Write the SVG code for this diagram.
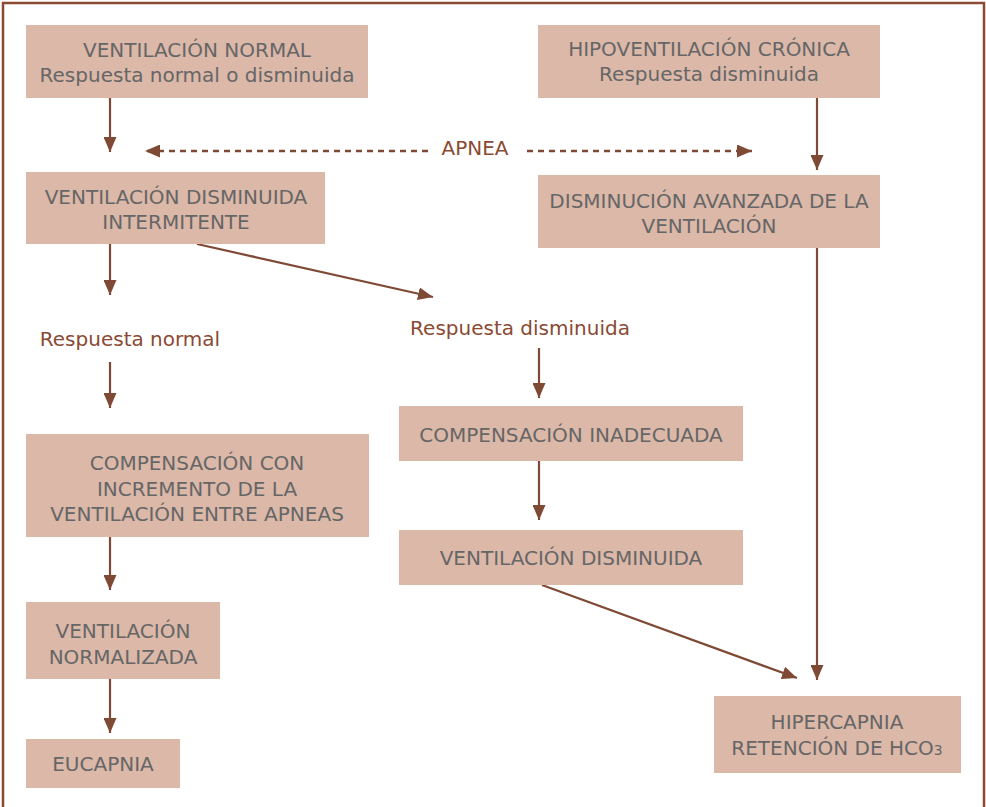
<svg xmlns="http://www.w3.org/2000/svg" width="986" height="807" viewBox="0 0 986 807">
<defs>
<style>
.box{fill:#dbb8a8}
.t{font-family:"DejaVu Sans","Liberation Sans",sans-serif;font-size:20px;fill:#666666;text-anchor:middle}
.l{font-family:"DejaVu Sans","Liberation Sans",sans-serif;font-size:20px;fill:#8b4a33;text-anchor:middle}
.c{stroke:#7f4a35;stroke-width:2.2;fill:none}
.d{stroke:#7f4a35;stroke-width:2.5;fill:none;stroke-dasharray:6 5}
</style>
<marker id="ah" viewBox="0 0 15 13" refX="15" refY="6.5" markerWidth="15" markerHeight="13" markerUnits="userSpaceOnUse" orient="auto">
<path d="M0,0 L15,6.5 L0,13 Z" fill="#7f4a35"/>
</marker>
</defs>
<rect width="986" height="807" fill="#ffffff"/>
<path d="M3,807 V3 H984 V807" fill="none" stroke="#8b4a33" stroke-width="2.5"/>

<g id="connectors">
<line class="c" x1="110" y1="98" x2="110" y2="152" marker-end="url(#ah)"/>
<line class="d" x1="428" y1="151" x2="145" y2="151" marker-end="url(#ah)"/>
<line class="d" x1="527" y1="151" x2="752" y2="151" marker-end="url(#ah)"/>
<line class="c" x1="817" y1="98" x2="817" y2="170" marker-end="url(#ah)"/>
<line class="c" x1="110" y1="244" x2="110" y2="295" marker-end="url(#ah)"/>
<line class="c" x1="197" y1="244" x2="433" y2="297" marker-end="url(#ah)"/>
<line class="c" x1="110" y1="362" x2="110" y2="408" marker-end="url(#ah)"/>
<line class="c" x1="539" y1="348" x2="539" y2="398" marker-end="url(#ah)"/>
<line class="c" x1="539" y1="461" x2="539" y2="520" marker-end="url(#ah)"/>
<line class="c" x1="110" y1="537" x2="110" y2="590" marker-end="url(#ah)"/>
<line class="c" x1="110" y1="679" x2="110" y2="733" marker-end="url(#ah)"/>
<line class="c" x1="817" y1="248" x2="817" y2="680" marker-end="url(#ah)"/>
<line class="c" x1="542" y1="585" x2="797" y2="678" marker-end="url(#ah)"/>
<text class="l" x="475" y="155">APNEA</text>
<text class="l" x="130" y="346">Respuesta normal</text>
<text class="l" x="520" y="335">Respuesta disminuida</text>
</g>

<g id="n1">
<rect class="box" x="26" y="25" width="342" height="73"/>
<text class="t" x="197" y="57">VENTILACIÓN NORMAL</text>
<text class="t" x="197" y="82">Respuesta normal o disminuida</text>
</g>
<g id="n2">
<rect class="box" x="538" y="25" width="342" height="73"/>
<text class="t" x="709" y="56">HIPOVENTILACIÓN CRÓNICA</text>
<text class="t" x="709" y="81">Respuesta disminuida</text>
</g>
<g id="n3">
<rect class="box" x="26" y="172" width="299" height="72"/>
<text class="t" x="176" y="204">VENTILACIÓN DISMINUIDA</text>
<text class="t" x="176" y="229">INTERMITENTE</text>
</g>
<g id="n4">
<rect class="box" x="538" y="175" width="342" height="73"/>
<text class="t" x="709" y="208">DISMINUCIÓN AVANZADA DE LA</text>
<text class="t" x="709" y="233">VENTILACIÓN</text>
</g>
<g id="n5">
<rect class="box" x="399" y="406" width="344" height="55"/>
<text class="t" x="571" y="442">COMPENSACIÓN INADECUADA</text>
</g>
<g id="n6">
<rect class="box" x="399" y="530" width="344" height="55"/>
<text class="t" x="571" y="565">VENTILACIÓN DISMINUIDA</text>
</g>
<g id="n7">
<rect class="box" x="26" y="434" width="343" height="103"/>
<text class="t" x="197" y="470">COMPENSACIÓN CON</text>
<text class="t" x="197" y="496">INCREMENTO DE LA</text>
<text class="t" x="197" y="521">VENTILACIÓN ENTRE APNEAS</text>
</g>
<g id="n8">
<rect class="box" x="26" y="602" width="194" height="77"/>
<text class="t" x="123" y="638">VENTILACIÓN</text>
<text class="t" x="123" y="664">NORMALIZADA</text>
</g>
<g id="n9">
<rect class="box" x="26" y="739" width="154" height="49"/>
<text class="t" x="103" y="771">EUCAPNIA</text>
</g>
<g id="n10">
<rect class="box" x="714" y="696" width="247" height="77"/>
<text class="t" x="837" y="729">HIPERCAPNIA</text>
<text class="t" x="837" y="755">RETENCIÓN DE HCO<tspan font-size="14">3</tspan></text>
</g>
</svg>
